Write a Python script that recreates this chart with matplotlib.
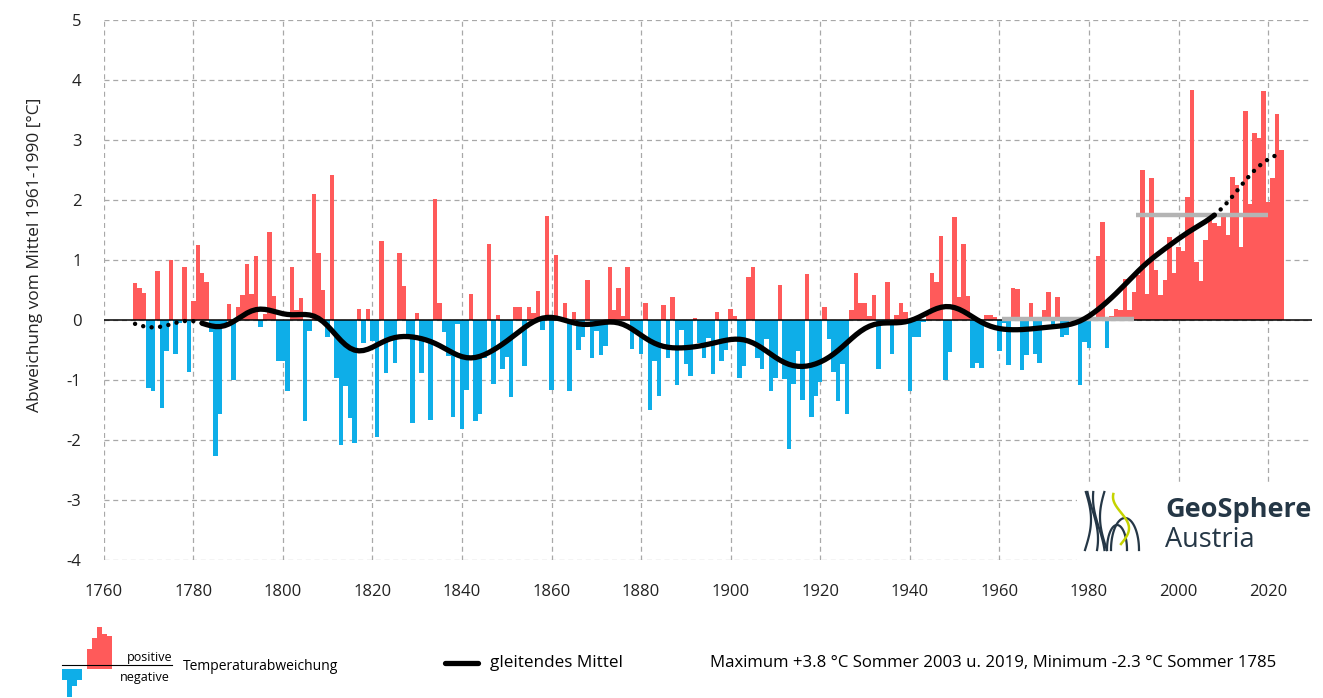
import numpy as np
import matplotlib.pyplot as plt
from matplotlib.lines import Line2D

# summer temperature anomaly, Austria, vs. mean 1961-1990 [°C]
first_year = 1767
summer_anomaly = [
    0.62, 0.53, 0.45,                                                  # 1767-
    -1.14, -1.18, 0.82, -1.46, -0.52, 1.00, -0.57, -0.05, 0.88, -0.87,  # 1770
    0.32, 1.25, 0.79, 0.63, -0.20, -2.27, -1.56, -0.10, 0.27, -1.00,    # 1780
    0.22, 0.42, 0.93, 0.44, 1.07, -0.11, 0.10, 1.46, 0.40, -0.68,       # 1790
    -0.68, -1.19, 0.89, 0.17, 0.36, -1.69, -0.19, 2.10, 1.11, 0.50,     # 1800
    -0.28, 2.42, -0.97, -2.08, -1.10, -1.64, -2.05, 0.18, -0.39, 0.18,  # 1810
    -0.35, -1.95, 1.32, -0.88, -0.30, -0.72, 1.11, 0.57, -0.25, -1.71,  # 1820
    0.12, -0.88, -0.35, -1.66, 2.01, 0.28, -0.20, -0.60, -1.62, -0.07,  # 1830
    -1.81, -1.17, 0.44, -1.68, -1.56, -0.64, 1.27, -1.06, 0.09, -0.82,  # 1840
    -0.61, -1.29, 0.21, 0.21, -0.77, 0.22, 0.11, 0.48, -0.16, 1.73,     # 1850
    -1.16, 1.09, 0.05, 0.28, -1.19, 0.14, -0.50, -0.28, 0.66, -0.64,    # 1860
    -0.19, -0.58, -0.44, 0.89, 0.17, 0.54, 0.06, 0.88, -0.49, -0.20,    # 1870
    -0.57, 0.28, -1.50, -0.69, -1.27, 0.25, -0.64, 0.38, -1.08, -0.17,  # 1880
    -0.73, -0.93, 0.03, -0.39, -0.64, -0.30, -0.90, 0.14, -0.68, -0.50, # 1890
    0.18, 0.07, -0.97, -0.77, 0.71, 0.88, -0.64, -0.81, -0.32, -1.18,   # 1900
    -0.97, 0.58, -0.99, -2.15, -1.06, -0.51, -1.33, 0.77, -1.62, -1.26, # 1910
    -1.04, 0.21, -0.31, -0.86, -1.35, -0.74, -1.56, 0.17, 0.79, 0.28,   # 1920
    0.28, 0.06, 0.42, -0.82, -0.05, 0.64, -0.56, 0.08, 0.28, 0.14,      # 1930
    -1.18, -0.29, -0.29, -0.04, 0.08, 0.79, 0.64, 1.40, -1.00, -0.53,   # 1940
    1.72, 0.39, 1.27, 0.40, -0.80, -0.72, -0.80, 0.08, 0.08, 0.05,      # 1950
    -0.51, -0.05, -0.75, 0.53, 0.51, -0.83, -0.58, 0.29, -0.56, -0.71,  # 1960
    0.16, 0.46, -0.10, 0.39, -0.28, -0.25, 0.05, -0.05, -1.08, -0.37,   # 1970
    -0.46, 0.05, 1.06, 1.64, -0.47, 0.06, 0.19, 0.16, 0.68, 0.17,       # 1980
    0.46, 0.75, 2.50, 0.44, 2.37, 0.84, 0.42, 0.67, 1.39, 0.79,         # 1990
    1.22, 1.15, 2.05, 3.83, 0.96, 0.65, 1.33, 1.72, 1.62, 1.56,         # 2000
    1.72, 1.42, 2.39, 2.25, 1.21, 3.48, 1.94, 3.12, 3.04, 3.82,         # 2010
    1.96, 2.37, 3.43, 2.83,                                             # 2020
]
years = np.arange(first_year, first_year + len(summer_anomaly))
anom = np.array(summer_anomaly)

# small bars of the legend symbol
icon_pos = [0.9, 1.4, 1.9, 1.6, 1.5]
icon_neg = [-0.5, -1.3, -0.8, -0.5]

red = '#ff5a5a'
blue = '#0eaee8'
navy = '#253746'

plt.rcParams['font.family'] = ['Open Sans', 'DejaVu Sans']
plt.rcParams['axes.unicode_minus'] = False

W, H = 1323, 698
fig = plt.figure(figsize=(W / 100, H / 100), dpi=100)
ax = fig.add_axes([103.7 / W, 1 - 560 / H, (1312 - 103.7) / W, 540 / H])

ax.bar(years, anom, width=1.0, color=np.where(anom >= 0, red, blue),
       linewidth=0, zorder=2)
ax.axhline(0, color='black', lw=1.1, zorder=3)

# reference means 1961-1990 and 1991-2020
for y0, y1 in [(1961, 1990), (1991, 2020)]:
    m = anom[(years >= y0) & (years <= y1)].mean()
    ax.plot([y0 - 0.5, y1], [m, m], color='#b4b4b4', lw=3.2,
            solid_capstyle='butt', zorder=4)

# gleitendes Mittel (gaussian weighted)
sigma = 5.0
smooth = np.empty(len(anom))
for i in range(len(anom)):
    w = np.exp(-0.5 * ((years - years[i]) / sigma) ** 2)
    smooth[i] = np.sum(w * anom) / np.sum(w)

edge = 15
mid = slice(edge, len(years) - edge)
ax.plot(years[mid], smooth[mid], color='black', lw=3.8,
        solid_capstyle='round', zorder=5)
for seg in [slice(0, edge + 1), slice(len(years) - edge - 1, len(years))]:
    ax.plot(years[seg], smooth[seg], color='black', lw=3.2,
            linestyle=(0, (0.01, 1.9)), dash_capstyle='round', zorder=5)

ax.set_xlim(1760, 2029.8)
ax.set_ylim(-4, 5)
ax.set_xticks(np.arange(1760, 2021, 20))
ax.set_yticks(np.arange(-4, 6, 1))
ax.grid(True, color='#a8a8a8', linestyle=(0, (4, 3)), lw=0.9, zorder=0)
ax.set_axisbelow(True)
for s in ax.spines.values():
    s.set_visible(False)
ax.tick_params(length=0, labelsize=12, colors='#222222')
ax.tick_params(axis='y', pad=16)
ax.tick_params(axis='x', pad=17)

fig.text(35 / W, 1 - 255 / H, 'Abweichung vom Mittel 1961-1990 [°C]',
         rotation=90, ha='center', va='center', fontsize=12.5, color='#222222')

# logo box
lg = fig.add_axes([1077 / W, 1 - 560 / H, (1312 - 1077) / W, 78 / H])
lg.set_facecolor('white')
lg.set_xlim(0, 235)
lg.set_ylim(0, 78)
lg.set_xticks([])
lg.set_yticks([])
for s in lg.spines.values():
    s.set_visible(False)
t = np.linspace(0, 1, 60)
for k, off in enumerate([0, 7, 14, 21]):
    xs = 8 + off + 6 * np.sin(t * 3.0 + k)
    ys = 10 + t * 58
    lg.plot(xs, ys, color=navy, lw=1.6)
lg.plot(40 + 10 * np.cos(t * np.pi), 10 + 25 * np.sin(t * np.pi), color=navy, lw=1.6)
lg.plot(48 + 14 * np.cos(t * np.pi), 10 + 32 * np.sin(t * np.pi), color=navy, lw=1.6)
lg.plot(44 + 8 * np.sin(t * 5), 16 + t * 50, color='#c5d300', lw=1.8)
lg.text(88, 50, 'GeoSphere', fontsize=19.5, fontweight='bold', color=navy,
        va='center', ha='left')
lg.text(88, 20, 'Austria', fontsize=19.5, color=navy, va='center', ha='left')

# legend symbol
ic = fig.add_axes([62 / W, 1 - 697 / H, 52 / W, 72 / H])
ic.bar(np.arange(len(icon_neg)), icon_neg, width=1.0, color=blue, lw=0)
ic.bar(np.arange(len(icon_neg), len(icon_neg) + len(icon_pos)) + 1, icon_pos,
       width=1.0, color=red, lw=0)
ic.set_xlim(-0.5, 10)
ic.set_ylim(-1.3, 2.0)
ic.axis('off')
fig.add_artist(Line2D([62 / W, 172 / W], [1 - 665 / H] * 2, color='black', lw=0.8))
fig.text(172 / W, 1 - 658 / H, 'positive', ha='right', va='center', fontsize=9)
fig.text(170 / W, 1 - 678 / H, 'negative', ha='right', va='center', fontsize=9)
fig.text(183 / W, 1 - 667 / H, 'Temperaturabweichung', ha='left', va='center',
         fontsize=10)

fig.add_artist(Line2D([445 / W, 478 / W], [1 - 663 / H] * 2, color='black', lw=3.8,
                      solid_capstyle='round'))
fig.text(490 / W, 1 - 663 / H, 'gleitendes Mittel', ha='left', va='center',
         fontsize=12.3)
fig.text(710 / W, 1 - 663 / H,
         'Maximum +3.8 °C Sommer 2003 u. 2019, Minimum -2.3 °C Sommer 1785',
         ha='left', va='center', fontsize=12.1)

fig.savefig('out.png', dpi=100)
